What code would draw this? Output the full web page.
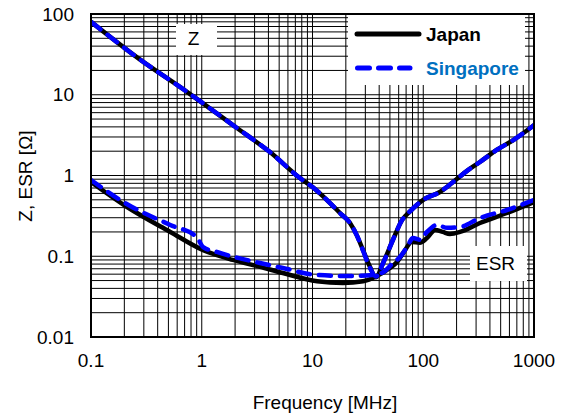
<!DOCTYPE html>
<html>
<head>
<meta charset="utf-8">
<script src="https://d3js.org/d3.v7.min.js"></script>
<style>
  body { margin: 0; background: #fff; }
  text { font-family: "Liberation Sans", Arial, sans-serif; }
</style>
</head>
<body>
<div id="chart"></div>
<script>
// Impedance / ESR vs frequency
var freqZ = [0.1, 0.27, 0.74, 2.08, 4.13, 7.7, 10, 14.4, 17.7, 21.8, 25.2, 28.6, 33, 37.4, 43.3, 53.3, 64.3, 76, 100, 140, 180, 250, 325, 460, 650, 1000];
var zJapan = [80, 28, 10.8, 3.87, 1.95, 0.93, 0.72, 0.456, 0.343, 0.258, 0.18, 0.119, 0.074, 0.055, 0.082, 0.16, 0.28, 0.36, 0.5, 0.62, 0.8, 1.15, 1.47, 2.07, 2.75, 4.2];
var zSingapore = [80, 28, 10.8, 3.87, 1.95, 0.93, 0.72, 0.456, 0.343, 0.258, 0.18, 0.117, 0.072, 0.056, 0.082, 0.16, 0.28, 0.36, 0.5, 0.62, 0.8, 1.15, 1.47, 2.07, 2.75, 4.2];

var freqEsrJapan = [0.1, 0.21, 0.52, 1.03, 1.91, 3.36, 5.4, 11, 18.8, 28.6, 38.2, 50, 58, 66, 79, 93, 108, 128, 150, 174, 215, 325, 570, 1000];
var esrJapan = [0.83, 0.41, 0.2, 0.119, 0.09, 0.074, 0.062, 0.049, 0.0467, 0.049, 0.057, 0.0715, 0.085, 0.11, 0.15, 0.147, 0.168, 0.211, 0.2, 0.189, 0.2, 0.258, 0.343, 0.47];

var freqEsrSingapore = [0.1, 0.21, 0.52, 0.9, 1.03, 1.37, 3.36, 5.4, 11, 21.8, 35, 43.3, 53.3, 61.7, 71.3, 80.8, 93.5, 108, 133, 164, 215, 325, 570, 1000];
var esrSingapore = [0.88, 0.444, 0.244, 0.173, 0.13, 0.113, 0.0824, 0.0715, 0.0586, 0.0569, 0.0586, 0.0634, 0.0824, 0.098, 0.13, 0.168, 0.16, 0.2, 0.244, 0.225, 0.23, 0.298, 0.374, 0.498];

var xTicks = [0.1, 1, 10, 100, 1000];
var yTicks = [0.01, 0.1, 1, 10, 100];

var width = 564;
var height = 416;
var margin = { top: 14, right: 30, bottom: 79, left: 91 };
var fontSize = "19px";
var dashes = "12,9";

var svg = d3
  .select("#chart")
  .append("svg")
  .attr("width", width)
  .attr("height", height);

var x = d3
  .scaleLog()
  .domain([0.1, 1000])
  .range([margin.left, width - margin.right]);
var y = d3
  .scaleLog()
  .domain([0.01, 100])
  .range([height - margin.bottom, margin.top]);

// minor + major positions 1..9 per decade
function decadeValues(lo, hi) {
  var vals = [];
  for (var p = Math.log10(lo); p < Math.log10(hi); p++) {
    for (var m = 1; m < 10; m++) {
      vals.push(m * Math.pow(10, p));
    }
  }
  vals.push(hi);
  return vals;
}

var grid = svg.append("g").attr("class", "grid");

grid
  .selectAll(".vline")
  .data(decadeValues(0.1, 1000))
  .enter()
  .append("line")
  .attr("class", "vline")
  .attr("x1", function(d) { return x(d); })
  .attr("x2", function(d) { return x(d); })
  .attr("y1", y(100))
  .attr("y2", y(0.01))
  .style("stroke", "#000")
  .style("stroke-width", 1);

grid
  .selectAll(".hline")
  .data(decadeValues(0.01, 100))
  .enter()
  .append("line")
  .attr("class", "hline")
  .attr("x1", x(0.1))
  .attr("x2", x(1000))
  .attr("y1", function(d) { return y(d); })
  .attr("y2", function(d) { return y(d); })
  .style("stroke", "#000")
  .style("stroke-width", 1);

// white label boxes sit on the grid
function whiteBox(x0, y0, w, h) {
  svg
    .append("rect")
    .attr("x", x0)
    .attr("y", y0)
    .attr("width", w)
    .attr("height", h)
    .style("fill", "#fff");
}

whiteBox(176, 24, 41, 31);
svg
  .append("text")
  .attr("x", 193.5)
  .attr("y", 45)
  .attr("text-anchor", "middle")
  .style("font-size", fontSize)
  .text("Z");

whiteBox(470, 246, 57, 35);
svg
  .append("text")
  .attr("x", 495.5)
  .attr("y", 270)
  .attr("text-anchor", "middle")
  .style("font-size", fontSize)
  .text("ESR");

// legend
whiteBox(348, 15, 177, 70);
var legend = svg.append("g").attr("class", "legend");
legend
  .append("line")
  .attr("x1", 357)
  .attr("x2", 419)
  .attr("y1", 34)
  .attr("y2", 34)
  .style("stroke", "#000")
  .style("stroke-width", 5)
  .style("stroke-linecap", "round");
legend
  .append("text")
  .attr("x", 426)
  .attr("y", 40.5)
  .style("font-size", fontSize)
  .style("font-weight", "bold")
  .style("fill", "#000")
  .text("Japan");
legend
  .append("line")
  .attr("x1", 357.5)
  .attr("x2", 410)
  .attr("y1", 68)
  .attr("y2", 68)
  .style("stroke", "#0000ff")
  .style("stroke-width", 5)
  .style("stroke-linecap", "round")
  .style("stroke-dasharray", dashes);
legend
  .append("text")
  .attr("x", 426)
  .attr("y", 75)
  .style("font-size", fontSize)
  .style("font-weight", "bold")
  .style("fill", "#0070c0")
  .text("Singapore");

// curves
svg
  .append("clipPath")
  .attr("id", "plotClip")
  .append("rect")
  .attr("x", x(0.1))
  .attr("y", y(100))
  .attr("width", x(1000) - x(0.1))
  .attr("height", y(0.01) - y(100));

var line = d3
  .line()
  .x(function(d) { return x(d[0]); })
  .y(function(d) { return y(d[1]); })
  .curve(d3.curveMonotoneX);

function pairs(fs, vs) {
  return fs.map(function(f, i) { return [f, vs[i]]; });
}

var curves = svg.append("g").attr("clip-path", "url(#plotClip)");

var series = [
  { data: pairs(freqEsrJapan, esrJapan), color: "#000", dash: null },
  { data: pairs(freqZ, zJapan), color: "#000", dash: null },
  { data: pairs(freqEsrSingapore, esrSingapore), color: "#0000ff", dash: dashes },
  { data: pairs(freqZ, zSingapore), color: "#0000ff", dash: dashes }
];

curves
  .selectAll("path")
  .data(series)
  .enter()
  .append("path")
  .attr("d", function(d) { return line(d.data); })
  .style("fill", "none")
  .style("stroke", function(d) { return d.color; })
  .style("stroke-width", 4.5)
  .style("stroke-linecap", "round")
  .style("stroke-linejoin", "round")
  .style("stroke-dasharray", function(d) { return d.dash; });

// frame
svg
  .append("rect")
  .attr("x", x(0.1))
  .attr("y", y(100))
  .attr("width", x(1000) - x(0.1))
  .attr("height", y(0.01) - y(100))
  .style("fill", "none")
  .style("stroke", "#000")
  .style("stroke-width", 2);

// tick labels
svg
  .selectAll(".xlabel")
  .data(xTicks)
  .enter()
  .append("text")
  .attr("class", "xlabel")
  .attr("x", function(d) { return x(d); })
  .attr("y", 367)
  .attr("text-anchor", "middle")
  .style("font-size", fontSize)
  .text(function(d) { return String(d); });

svg
  .selectAll(".ylabel")
  .data(yTicks)
  .enter()
  .append("text")
  .attr("class", "ylabel")
  .attr("x", 74)
  .attr("y", function(d) { return y(d) + 6.5; })
  .attr("text-anchor", "end")
  .style("font-size", fontSize)
  .text(function(d) { return String(d); });

// axis titles
svg
  .append("text")
  .attr("x", 325)
  .attr("y", 409)
  .attr("text-anchor", "middle")
  .style("font-size", fontSize)
  .text("Frequency [MHz]");

svg
  .append("text")
  .attr("transform", "translate(32,176) rotate(-90)")
  .attr("text-anchor", "middle")
  .style("font-size", fontSize)
  .text("Z, ESR [Ω]");
</script>
</body>
</html>
